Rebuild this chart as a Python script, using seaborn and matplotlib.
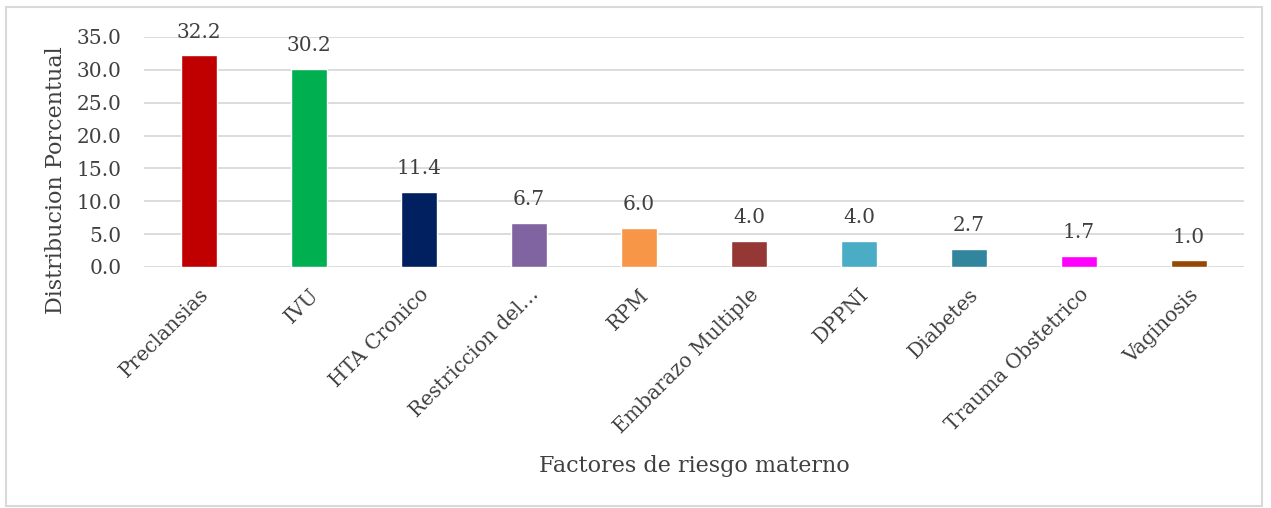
import matplotlib
matplotlib.use("Agg")
import matplotlib.pyplot as plt
from matplotlib.patches import Rectangle
import seaborn as sns
import pandas as pd

factores = ["Preclansias", "IVU", "HTA Cronico", "Restriccion del…", "RPM",
            "Embarazo Multiple", "DPPNI", "Diabetes", "Trauma Obstetrico", "Vaginosis"]
porcentaje = [32.2, 30.2, 11.4, 6.7, 6.0, 4.0, 4.0, 2.7, 1.7, 1.0]
colores = ["#C00000", "#00B050", "#002060", "#8064A2", "#F79646",
           "#953735", "#4BACC6", "#31859C", "#FF00FF", "#974706"]
yticks = [0, 5, 10, 15, 20, 25, 30, 35]

sns.set_theme(style="white")
plt.rcParams["font.family"] = ["DejaVu Serif", "Liberation Serif"]

df = pd.DataFrame({"factor": factores, "valor": porcentaje})

fig = plt.figure(figsize=(12.71, 5.08), dpi=100)
ax = fig.add_axes([144 / 1271, 1 - 267 / 508, 1100 / 1271, 230 / 508])

sns.barplot(data=df, x="factor", y="valor", hue="factor", palette=colores,
            legend=False, width=0.32, ax=ax, saturation=1)

txt = "#404040"
ax.set_ylim(0, 35)
ax.set_xlim(-0.5, len(factores) - 0.5)
ax.set_yticks(yticks)
ax.set_yticklabels([f"{v:.1f}" for v in yticks], fontsize=14.5, color=txt)
ax.set_axisbelow(True)
ax.yaxis.grid(True, color="#D9D9D9", linewidth=1.3)
for s in ax.spines.values():
    s.set_visible(False)
ax.tick_params(axis="y", length=0, pad=16)
ax.tick_params(axis="x", length=0, pad=13)
ax.set_xticks(range(len(factores)))
ax.set_xticklabels(factores, rotation=45, ha="right", rotation_mode="anchor",
                   fontsize=14.5, color=txt)

# value labels above each bar
for i, v in enumerate(porcentaje):
    ax.annotate(f"{v:.1f}", (i, v), xytext=(0, 10), textcoords="offset points",
                ha="center", va="bottom", fontsize=14.5, color=txt)

ax.set_ylabel("Distribucion Porcentual", fontsize=16, color=txt)
ax.yaxis.set_label_coords((67 - 144) / 1100, (267 - 180) / 230)
ax.set_xlabel("Factores de riesgo materno", fontsize=16, color=txt)
ax.xaxis.set_label_coords(0.5, -(455 - 267) / 230)

# light frame around the whole chart
fig.patches.append(Rectangle((6 / 1271, 2 / 508), 1256 / 1271, 499 / 508,
                             transform=fig.transFigure, fill=False,
                             edgecolor="#D9D9D9", linewidth=1.5))

fig.savefig("out.png", dpi=100, facecolor="white")
